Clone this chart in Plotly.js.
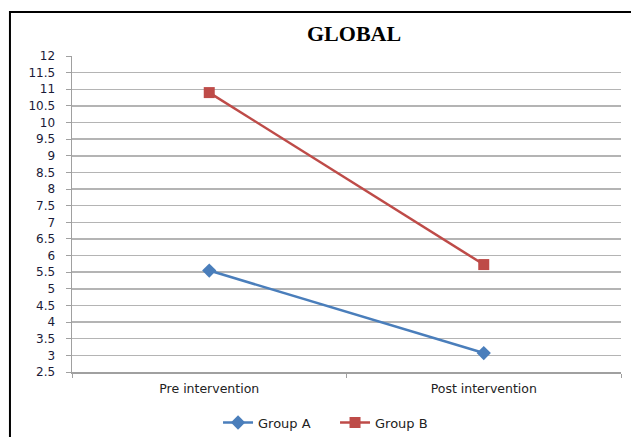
<!DOCTYPE html>
<html><head><meta charset="utf-8">
<script src="https://cdn.plot.ly/plotly-3.0.1.min.js"></script>
<style>html,body{margin:0;padding:0;background:#fff;}</style>
</head><body>
<div id="chart" style="width:631px;height:437px;"></div>
<script>
const categories = ["Pre intervention", "Post intervention"];
const groupA = [5.55, 3.07];
const groupB = [10.9, 5.73];
const seriesNames = ["Group A", "Group B"];
const yTicks = [2.5,3,3.5,4,4.5,5,5.5,6,6.5,7,7.5,8,8.5,9,9.5,10,10.5,11,11.5,12];
const yTickText = yTicks.map(v => String(v));

const traces = [
  {x: categories, y: groupA, name: seriesNames[0], type: "scatter", mode: "lines+markers",
   line: {color: "#4a7ebb", width: 2.5}, marker: {symbol: "diamond", size: 11, color: "#4a7ebb"}},
  {x: categories, y: groupB, name: seriesNames[1], type: "scatter", mode: "lines+markers",
   line: {color: "#be4b48", width: 2.5}, marker: {symbol: "square", size: 11, color: "#be4b48"}}
];

const layout = {
  width: 631, height: 437,
  margin: {l: 72, r: 10, t: 56, b: 65, autoexpand: false},
  paper_bgcolor: "#fff", plot_bgcolor: "#fff",
  showlegend: true,
  legend: {orientation: "h", x: 0.266, xanchor: "left", y: -0.16, yanchor: "middle",
           entrywidth: 72, entrywidthmode: "pixels",
           font: {family: "DejaVu Sans, sans-serif", size: 13, color: "#222"}, itemwidth: 30},
  xaxis: {type: "category", range: [-0.5, 1.5], showgrid: false, zeroline: false,
          showline: true, linecolor: "#a0a0a0", linewidth: 1.5,
          ticks: "outside", tickson: "boundaries", ticklen: 4, tickcolor: "#a0a0a0",
          ticklabelstandoff: 4,
          tickfont: {family: "DejaVu Sans, sans-serif", size: 12.5, color: "#222"}, fixedrange: true},
  yaxis: {range: [2.5, 12], tickvals: yTicks, ticktext: yTickText,
          showgrid: true, gridcolor: "#b4b4b4", gridwidth: 1.5, zeroline: false,
          showline: true, linecolor: "#a0a0a0", linewidth: 1.5,
          ticks: "outside", ticklen: 5, tickcolor: "#a0a0a0", ticklabelstandoff: 8,
          tickfont: {family: "DejaVu Sans, sans-serif", size: 12, color: "#1a1a38"}},
  shapes: [
    {type: "rect", xref: "paper", yref: "paper", x0: 0.37, x1: 0.656, y0: 0.985, y1: 1.03,
     fillcolor: "#fff", line: {width: 0}, layer: "above"},
    {type: "rect", xref: "paper", yref: "paper", x0: -0.113, x1: 1.05, y0: -0.4, y1: 1.139,
     fillcolor: "rgba(0,0,0,0)", line: {color: "#000", width: 2}, layer: "above"}
  ],
  annotations: [
    {text: "<b>GLOBAL</b>", xref: "paper", yref: "paper", x: 0.513, y: 1.07,
     xanchor: "center", yanchor: "middle", showarrow: false,
     font: {family: "Liberation Serif, serif", size: 22, color: "#000"}}
  ]
};

Plotly.newPlot("chart", traces, layout, {displayModeBar: false, staticPlot: true});
</script>
</body></html>
